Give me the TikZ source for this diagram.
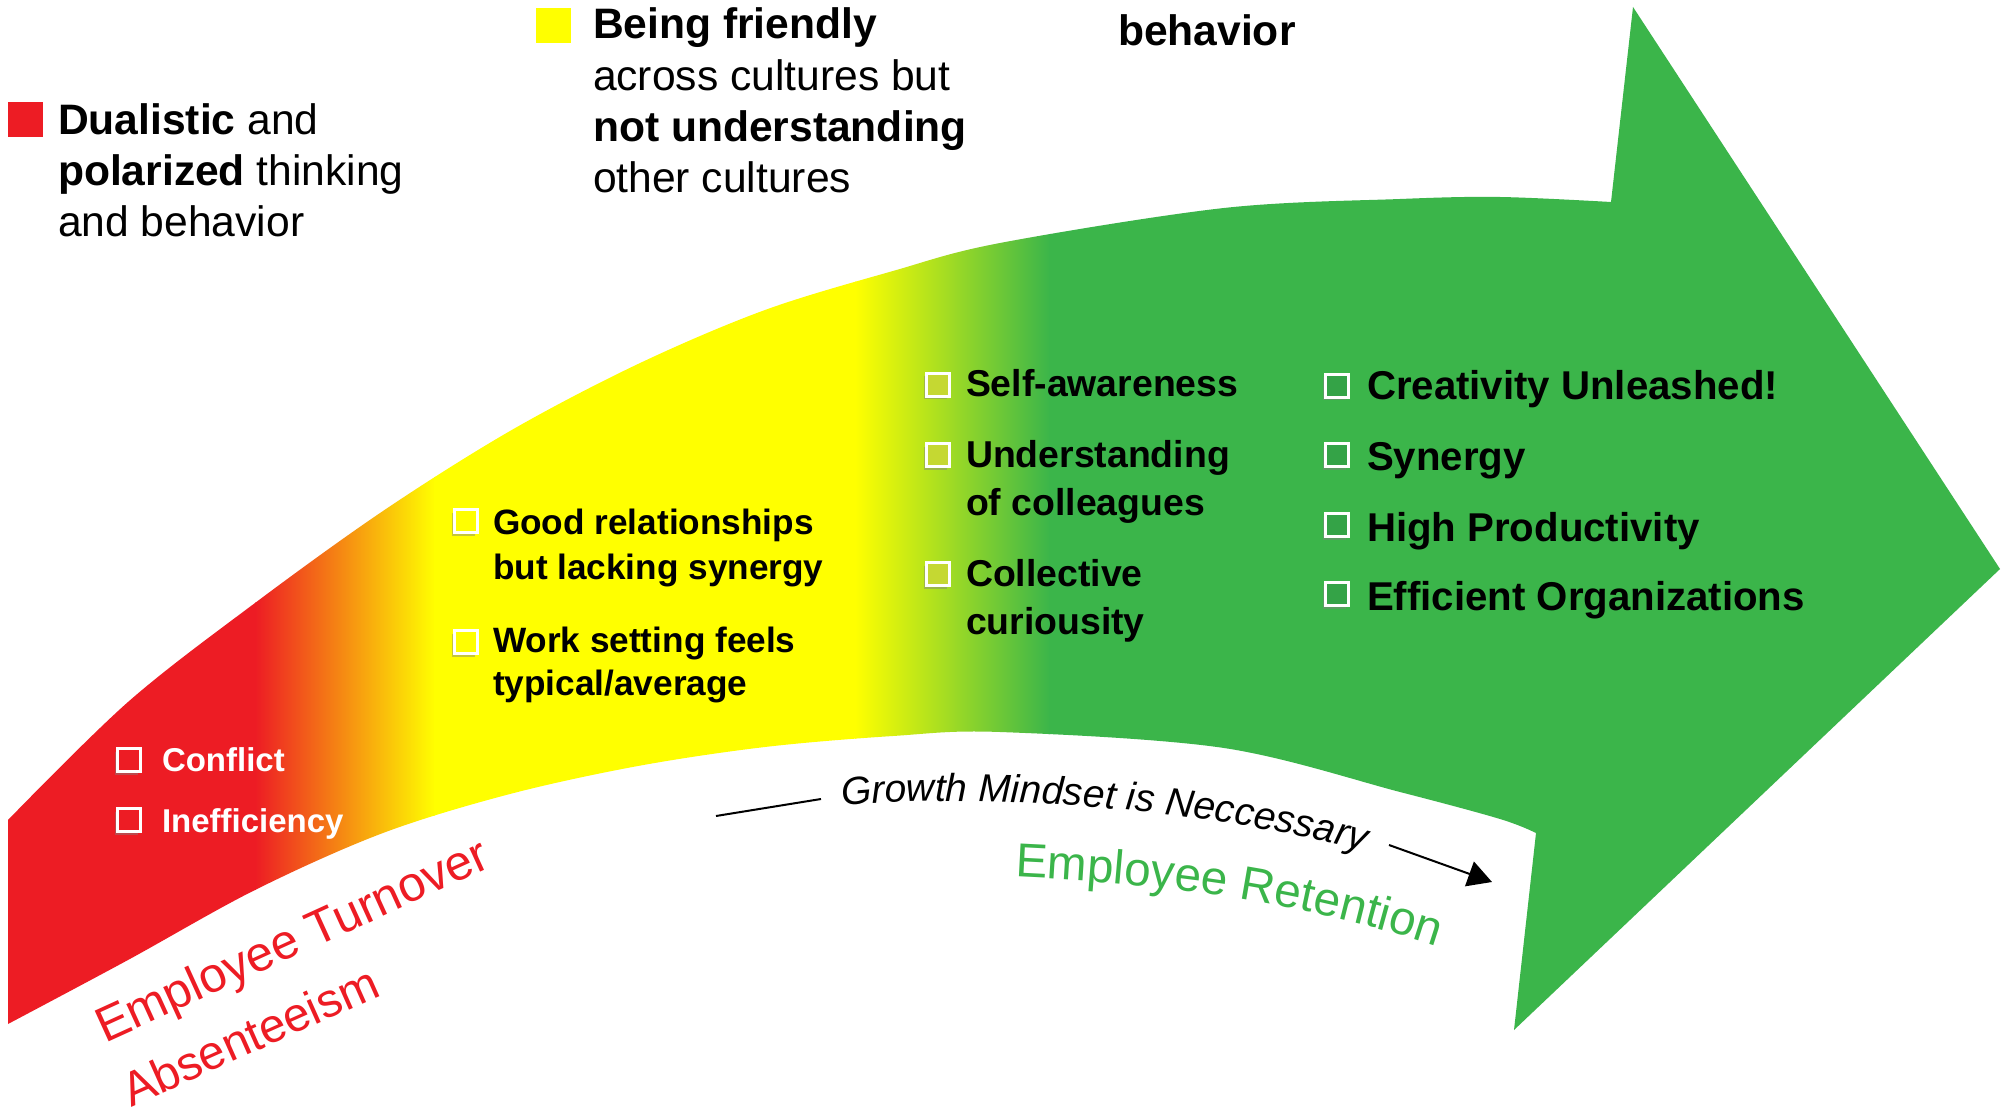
\documentclass[tikz,border=0pt]{standalone}
\usepackage{fontspec}
\setmainfont{Liberation Sans}
\usetikzlibrary{shadows, decorations.text, arrows.meta}
\definecolor{cred}{RGB}{237,28,36}
\definecolor{cyellow}{RGB}{255,255,0}
\definecolor{cgreen}{RGB}{59,181,74}
\definecolor{cmid}{RGB}{197,216,50}
\definecolor{cdark}{RGB}{52,163,71}
\begin{document}
\begin{tikzpicture}[x=0.5pt, y=-0.5pt,
  txt/.style={anchor=base west, inner sep=0pt, outer sep=0pt},
  legend/.style={txt, font=\fontsize{21.3}{25}\selectfont},
  legsq/.style={minimum size=17.5pt, inner sep=0pt, outer sep=0pt},
  cbox/.style={draw=white, line width=1.5pt, minimum size=11.5pt, inner sep=0pt,
     drop shadow={shadow xshift=-1.5pt, shadow yshift=-1.5pt, opacity=0.45}},
  itred/.style={txt, text=white, font=\bfseries\fontsize{16.5}{20}\selectfont},
  ityel/.style={txt, font=\bfseries\fontsize{17.6}{21}\selectfont},
  itmid/.style={txt, font=\bfseries\fontsize{18.7}{22}\selectfont},
  itgrn/.style={txt, font=\bfseries\fontsize{20.1}{24}\selectfont},
  redlabel/.style={txt, text=cred},
  conn/.style={line width=1pt, black}
]
\useasboundingbox[fill=white] (0,0) rectangle (2007,1112);

% ---- the big curved arrow with its colour gradient ----
\begin{scope}
\clip (8,820) -- plot[smooth, tension=0.55] coordinates {(8,820) (128,702) (255,603) (383,511) (510,431) (638,364) (765,310) (893,271) (1000,243) (1224,208) (1400,199) (1500,197) (1611,202)}
  -- (1633,7) -- (2000,569) -- (1514,1030) -- (1536,833)
  -- plot[smooth, tension=0.55] coordinates {(1536,833) (1500,819) (1400,792) (1224,748) (1000,732) (893,736) (765,747) (638,766) (510,794) (383,833) (255,890) (128,960) (8,1024)}
  -- cycle;
\fill[cred] (0,0) rectangle (256,1112);
\shade[left color=cred, right color=cyellow] (255,0) rectangle (435,1112);
\fill[cyellow] (434,0) rectangle (856,1112);
\shade[left color=cyellow, right color=cgreen] (855,0) rectangle (1050,1112);
\fill[cgreen] (1049,0) rectangle (2007,1112);
\end{scope}

% ---- legends ----
\node[legsq, fill=cred] (lsq1) at (25.5,120) {};
\node[legend] (l1a) at (58,135) {\textbf{Dualistic} and};
\node[legend] (l1b) at (58,186) {\textbf{polarized} thinking};
\node[legend] (l1c) at (58,237) {and behavior};

\node[legsq, fill=cyellow] (lsq2) at (553.5,25.5) {};
\node[legend] (l2a) at (593,39) {\textbf{Being friendly}};
\node[legend] (l2b) at (593,91) {across cultures but};
\node[legend] (l2c) at (593,142) {\textbf{not understanding}};
\node[legend] (l2d) at (593,193) {other cultures};

\node[legend] (l3a) at (1118,46) {\textbf{behavior}};

% ---- red items ----
\node[cbox, fill=cred] (cb1) at (129,760) {};
\node[itred] (r1) at (162,771) {Conflict};
\node[cbox, fill=cred] (cb2) at (129,820) {};
\node[itred] (r2) at (162,832) {Inefficiency};

% ---- yellow items ----
\node[cbox, fill=cyellow] (cb3) at (466,521) {};
\node[ityel] (y1a) at (493,534) {Good relationships};
\node[ityel] (y1b) at (493,579) {but lacking synergy};
\node[cbox, fill=cyellow] (cb4) at (466,642) {};
\node[ityel] (y2a) at (493,652) {Work setting feels};
\node[ityel] (y2b) at (493,695) {typical/average};

% ---- middle items ----
\node[cbox, fill=cmid] (cb5) at (938,385) {};
\node[itmid] (m1) at (966,397) {Self-awareness};
\node[cbox, fill=cmid] (cb6) at (938,455) {};
\node[itmid] (m2a) at (966,467) {Understanding};
\node[itmid] (m2b) at (966,515) {of colleagues};
\node[cbox, fill=cmid] (cb7) at (938,574) {};
\node[itmid] (m3a) at (966,586) {Collective};
\node[itmid] (m3b) at (966,634) {curiousity};

% ---- green items ----
\node[cbox, fill=cdark] (cb8) at (1337,386) {};
\node[itgrn] (g1) at (1367,400) {Creativity Unleashed!};
\node[cbox, fill=cdark] (cb9) at (1337,455) {};
\node[itgrn] (g2) at (1367,470) {Synergy};
\node[cbox, fill=cdark] (cb10) at (1337,525) {};
\node[itgrn] (g3) at (1367,541) {High Productivity};
\node[cbox, fill=cdark] (cb11) at (1337,594) {};
\node[itgrn] (g4) at (1367,610) {Efficient Organizations};

% ---- red labels under the arrow ----
\node[redlabel, rotate=24.5, font=\fontsize{24.5}{24.5}\selectfont] (et) at (105,1043) {Employee Turnover};
\node[redlabel, rotate=24, font=\fontsize{23.8}{23.8}\selectfont] (ab) at (131,1107) {Absenteeism};

% ---- growth mindset arc ----
\coordinate (gl1) at (716,816);
\coordinate (gl2) at (821,799);
\draw[conn] (gl1) -- (gl2);
\coordinate (gmA) at (842,806);
\coordinate (gmB) at (1400,862);
\path[decorate, decoration={text along path, text align=left,
   text={|\itshape\fontsize{19.5}{19.5}\selectfont|Growth Mindset is Neccessary}}]
   (gmA) .. controls (950,795) and (1200,800) .. (gmB);
\coordinate (gr1) at (1389,845);
\coordinate (gr2) at (1492,882);
\draw[conn, -{Triangle[length=12pt, width=13pt]}] (gr1) -- (gr2);

% ---- employee retention ----
\coordinate (erA) at (1015,877);
\coordinate (erB) at (1480,962);
\path[decorate, decoration={text along path, text align=left,
   text={|\color{cgreen}\fontsize{23.8}{23.8}\selectfont|Employee Retention}}]
   (erA) .. controls (1120,882) and (1300,893) .. (erB);
\end{tikzpicture}
\end{document}
